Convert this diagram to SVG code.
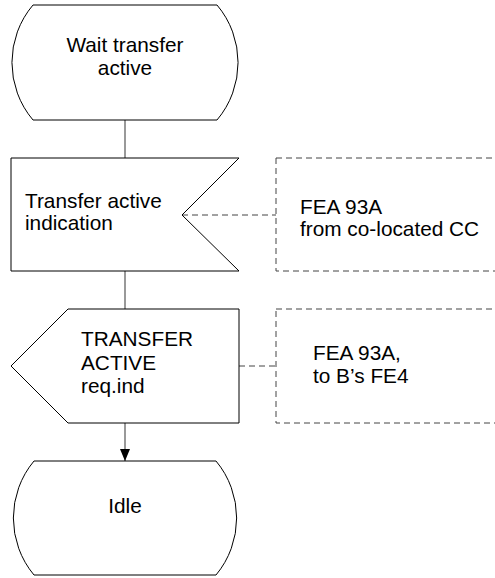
<svg xmlns="http://www.w3.org/2000/svg" width="495" height="578" viewBox="0 0 495 578">
<style>
.shape{fill:#fff;stroke:#000;stroke-width:1}
.conn{fill:none;stroke:#555;stroke-width:1.2}
.dash{fill:none;stroke:#444;stroke-width:1;stroke-dasharray:6,4}
text{font-family:"Liberation Sans",Arial,sans-serif;font-size:20.8px;fill:#000}
.c{text-anchor:middle}
</style>
<defs>
<marker id="arr" markerWidth="12" markerHeight="10" refX="12" refY="5" orient="auto" markerUnits="userSpaceOnUse">
<path d="M0,0 L12,5 L0,10 Z" fill="#000"/>
</marker>
</defs>
<g id="connectors">
<line class="conn" x1="125" y1="120" x2="125" y2="158"/>
<line class="conn" x1="125" y1="271" x2="125" y2="309"/>
<line class="conn" x1="125" y1="423" x2="125" y2="461" marker-end="url(#arr)"/>
<line class="dash" x1="182" y1="215" x2="276" y2="215"/>
<line class="dash" x1="239" y1="366" x2="276" y2="366"/>
</g>
<g id="state-wait">
<path class="shape" d="M33,5 L217,5 A89,89 0 0 1 217,120 L33,120 A89,89 0 0 1 33,5 Z"/>
<text class="c" x="125" y="52">Wait transfer</text>
<text class="c" x="125" y="75">active</text>
</g>
<g id="input-transfer">
<path class="shape" d="M11,158 L239,158 L182,215 L239,271 L11,271 Z"/>
<text x="25" y="208">Transfer active</text>
<text x="25" y="230">indication</text>
</g>
<g id="comment1">
<rect class="dash" x="276" y="158" width="240" height="113"/>
<text x="300" y="214">FEA 93A</text>
<text x="300" y="236">from co-located CC</text>
</g>
<g id="output-transfer">
<path class="shape" d="M68,309 L239,309 L239,423 L68,423 L11,366 Z"/>
<text x="81" y="346">TRANSFER</text>
<text x="81" y="370">ACTIVE</text>
<text x="81" y="393">req.ind</text>
</g>
<g id="comment2">
<rect class="dash" x="276" y="309" width="240" height="114"/>
<text x="313" y="360">FEA 93A,</text>
<text x="313" y="383">to B’s FE4</text>
</g>
<g id="state-idle">
<path class="shape" d="M34,461 L216,461 A89,89 0 0 1 216,575 L34,575 A89,89 0 0 1 34,461 Z"/>
<text class="c" x="125" y="513">Idle</text>
</g>
</svg>
